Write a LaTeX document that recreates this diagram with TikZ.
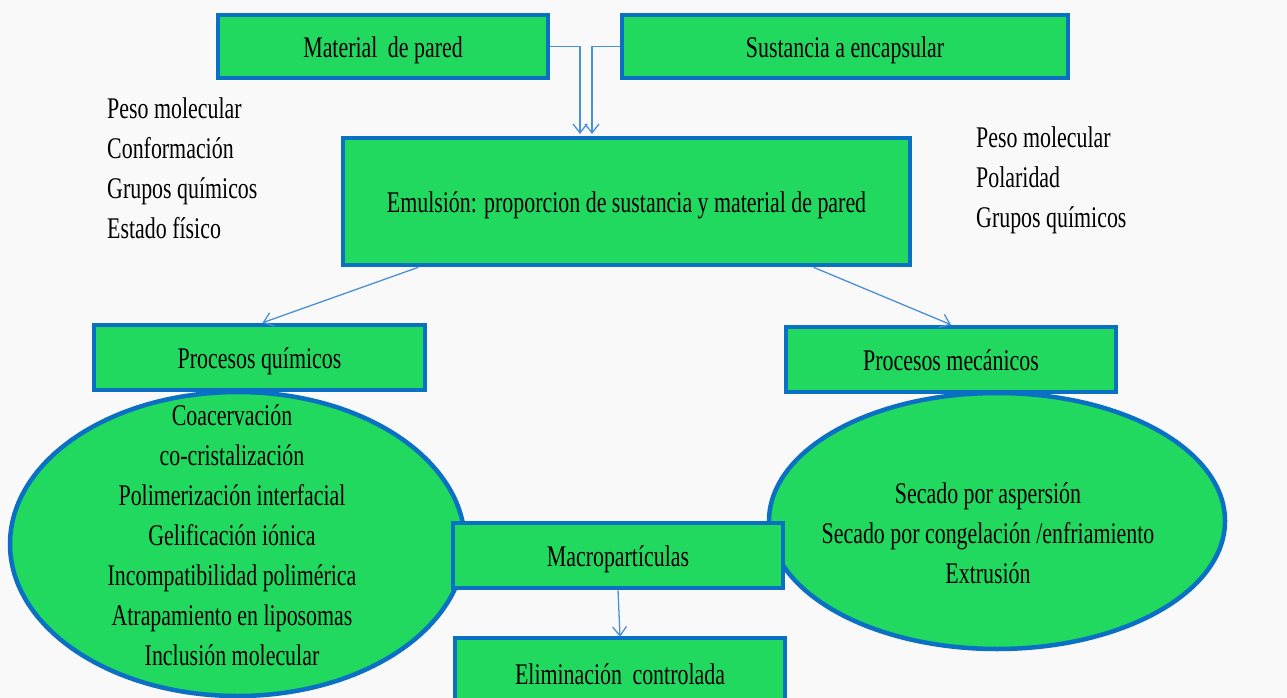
\documentclass[tikz,border=0pt]{standalone}
\usepackage{fontspec}
\setmainfont[FakeStretch=0.73]{Liberation Serif}
\usetikzlibrary{shapes.geometric,arrows.meta,calc}
\definecolor{boxgreen}{RGB}{33,217,94}
\definecolor{boxblue}{RGB}{10,112,196}
\definecolor{linkblue}{RGB}{74,144,217}
\definecolor{bg}{RGB}{249,249,249}
\tikzset{
  box/.style={draw=boxblue, line width=4.5pt, fill=boxgreen, inner sep=0pt,
    text height=28pt, text depth=6pt,
    font=\fontsize{30}{40}\selectfont},
  ell/.style={ellipse, draw=boxblue, line width=4.5pt, fill=boxgreen, inner sep=0pt},
  txt/.style={inner sep=0pt, font=\fontsize{30}{40}\selectfont},
  conn/.style={draw=linkblue, line width=1.3pt, -{Straight Barb[length=9pt,width=14pt]}}
}
\begin{document}
\begin{tikzpicture}[x=1pt,y=-1pt]
\fill[bg] (0,0) rectangle (1287,698);
\useasboundingbox (0,0) rectangle (1287,698);
\clip (0,0) rectangle (1287,698);

% ellipses (behind boxes)
\node[ell, minimum width=455, minimum height=304] (lell) at (237.5,544) {};
\node[ell, minimum width=456, minimum height=256] (rell) at (997,521) {};

% boxes
\node[box, minimum width=330, minimum height=63] (mat) at (383,46.5) {Material\, de pared};
\node[box, minimum width=446, minimum height=63] (sus) at (845,46.5) {Sustancia a encapsular};
\node[box, minimum width=567, minimum height=127] (emu) at (626.5,201.5) {Emulsión: proporcion de sustancia y material de pared};
\node[box, minimum width=331, minimum height=65] (pq) at (259.5,357.5) {Procesos químicos};
\node[box, minimum width=330, minimum height=65] (pm) at (951,359.5) {Procesos mecánicos};
\node[box, minimum width=330, minimum height=65] (mac) at (618,555.5) {Macropartículas};
\node[box, minimum width=330, minimum height=100] (eli) at (620,688) {};
\node[txt, text height=28pt, text depth=6pt] (elit) at (620,673) {Eliminación\, controlada};

% texts
\node[txt, align=left, anchor=north west] (lprop) at (107,97) {Peso molecular\\Conformación\\Grupos químicos\\Estado físico};
\node[txt, align=left, anchor=north west] (rprop) at (976,126) {Peso molecular\\Polaridad\\Grupos químicos};
\node[txt, align=center] (ltxt) at (232,535) {Coacervación\\co-cristalización\\Polimerización interfacial\\Gelificación iónica\\Incompatibilidad polimérica\\Atrapamiento en liposomas\\Inclusión molecular};
\node[txt, align=center] (rtxt) at (988,533) {Secado por aspersión\\Secado por congelación /enfriamiento\\Extrusión};

% connectors
\coordinate (m1) at (580,134);
\coordinate (s1) at (592,134);
\draw[conn] (mat.east) -| (m1);
\draw[conn] (sus.west) -| (s1);
\draw[conn] ($(emu.south)!0.728!(emu.south west)$) -- ([xshift=3pt]pq.north);
\draw[conn] ($(emu.south)!0.654!(emu.south east)$) -- (pm.north);
\draw[conn] (mac.south) -- ([yshift=-1pt]eli.north);
\end{tikzpicture}
\end{document}
